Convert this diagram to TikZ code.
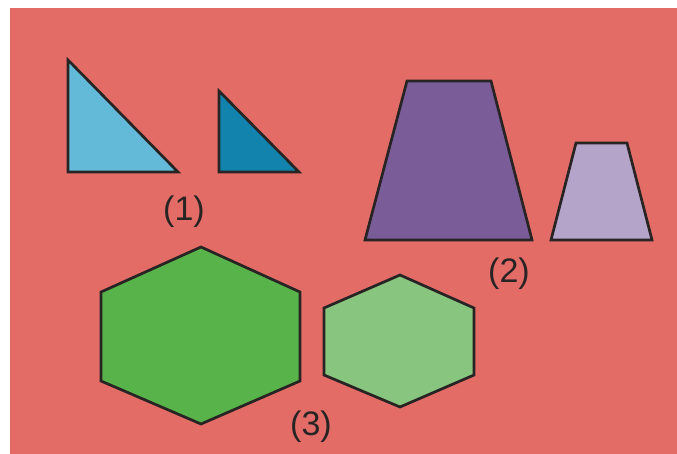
\documentclass[tikz,border=0pt]{standalone}
\usepackage{fontspec}
\setmainfont{Liberation Sans}
\usepackage{xcolor}
\usepackage{tikz}
\usetikzlibrary{positioning}

\definecolor{bgred}{RGB}{227,108,103}
\definecolor{skyblue}{RGB}{99,186,216}
\definecolor{deepblue}{RGB}{18,131,173}
\definecolor{plum}{RGB}{122,92,153}
\definecolor{lavender}{RGB}{181,164,201}
\definecolor{leafgreen}{RGB}{88,180,74}
\definecolor{palegreen}{RGB}{136,197,127}
\definecolor{edgegray}{RGB}{40,36,36}

\begin{document}
\begin{tikzpicture}[
  x=1pt, y=-1pt,
  figure/.style={draw=edgegray, line width=2.7pt, line join=miter},
  tag/.style={font=\fontsize{34}{34}\selectfont, text=edgegray, inner sep=0pt}
]

% frame
\useasboundingbox (0,0) rectangle (677,454);
\fill[bgred] (10,8) rectangle (677,454);

% (1) triangles
\draw[figure, fill=skyblue] (68,60) -- (68,172) -- (178,172) -- cycle;
\draw[figure, fill=deepblue] (219,91) -- (219,172) -- (299,172) -- cycle;
\node[tag] (lblone) at (184,212) {(1)};

% (2) trapezoids
\draw[figure, fill=plum] (407,81) -- (491,81) -- (532,240) -- (365,240) -- cycle;
\draw[figure, fill=lavender] (576,143) -- (627,143) -- (652,240) -- (551,240) -- cycle;
\node[tag] (lbltwo) at (509,274) {(2)};

% (3) hexagons
\draw[figure, fill=leafgreen] (201,247) -- (300,292) -- (300,381) -- (201,424)
  -- (101,381) -- (101,292) -- cycle;
\draw[figure, fill=palegreen] (400,275) -- (474,308) -- (474,375) -- (400,407)
  -- (324,375) -- (324,308) -- cycle;
\node[tag] (lblthree) at (311,427) {(3)};

\end{tikzpicture}
\end{document}
